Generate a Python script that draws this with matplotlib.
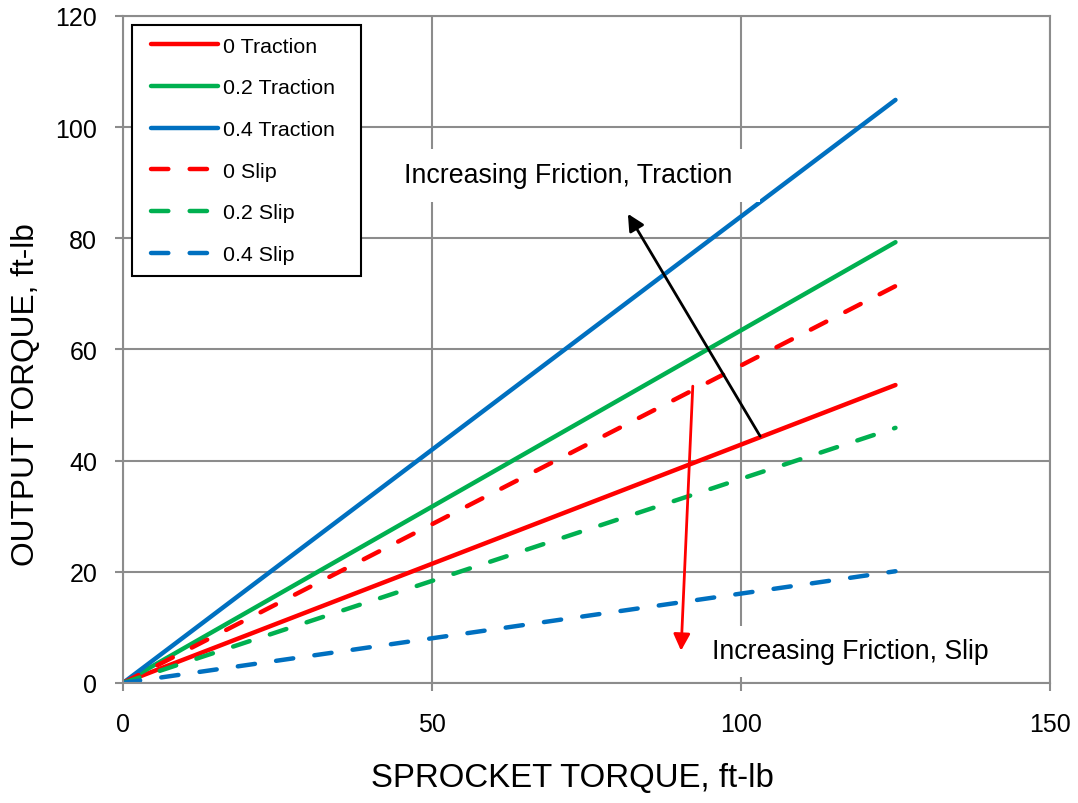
import matplotlib
matplotlib.use("Agg")
import matplotlib.pyplot as plt
from matplotlib.patches import Rectangle
from matplotlib.legend_handler import HandlerLine2D

plt.rcParams['font.family'] = ['Liberation Sans', 'DejaVu Sans']

# sprocket torque (ft-lb) and output torque for each friction case
sprocket = [0, 125]
traction_0 = [0, 53.6]
traction_02 = [0, 79.3]
traction_04 = [0, 104.9]
slip_0 = [0, 71.4]
slip_02 = [0, 45.9]
slip_04 = [0, 20.1]

red = '#FF0000'
green = '#00B050'
blue = '#0070C0'
grey = '#8C8C8C'

fig = plt.figure(figsize=(10.78, 8.04), dpi=100)
ax = fig.add_axes([0.1141, 0.1493, 0.8599, 0.8296])

lw = 3.2
dash = (0, (3.9, 4.8))
ax.plot(sprocket, traction_0, color=red, lw=lw, label='0 Traction', solid_capstyle='round')
ax.plot(sprocket, traction_02, color=green, lw=lw, label='0.2 Traction', solid_capstyle='round')
ax.plot(sprocket, traction_04, color=blue, lw=lw, label='0.4 Traction', solid_capstyle='round')
ax.plot(sprocket, slip_0, color=red, lw=lw, ls=dash, dash_capstyle='round', label='0 Slip')
ax.plot(sprocket, slip_02, color=green, lw=lw, ls=dash, dash_capstyle='round', label='0.2 Slip')
ax.plot(sprocket, slip_04, color=blue, lw=lw, ls=dash, dash_capstyle='round', label='0.4 Slip')

ax.set_xlim(0, 150)
ax.set_ylim(0, 120)
ax.set_xticks([0, 50, 100, 150])
ax.set_yticks(range(0, 121, 20))
ax.grid(True, color=grey, lw=1.5)
ax.set_axisbelow(True)
for s in ax.spines.values():
    s.set_color(grey)
    s.set_linewidth(1.5)
ax.tick_params(direction='out', length=6, width=1.5, color=grey, labelsize=18)
ax.tick_params(axis='y', pad=12.5)
ax.tick_params(axis='x', pad=15)

fig.text(0.5306, 0.0211, 'SPROCKET TORQUE, ft-lb', fontsize=23.8, ha='center', va='baseline')
fig.text(0.0241, 0.5087, 'OUTPUT TORQUE, ft-lb', fontsize=22.8, rotation=90,
         ha='center', va='center')

# white backing of the two caption boxes
ax.add_patch(Rectangle((44, 86.5), 59.1, 9.6, facecolor='white', edgecolor='none', zorder=2.5))
ax.add_patch(Rectangle((93.9, 1.1), 48, 9.2, facecolor='white', edgecolor='none', zorder=2.5))

# direction arrows with their captions
ax.annotate('', xy=(81.7, 84.4), xytext=(103.1, 44.4),
            arrowprops=dict(arrowstyle='-|>', color='black', lw=2, mutation_scale=25,
                            shrinkA=0, shrinkB=0))
ax.annotate('', xy=(90.3, 5.8), xytext=(92.2, 53.4),
            arrowprops=dict(arrowstyle='-|>', color=red, lw=2, mutation_scale=25,
                            shrinkA=0, shrinkB=0))
ax.text(45.5, 91.4, 'Increasing Friction, Traction', fontsize=19.3, va='center', ha='left',
        zorder=3)
ax.text(95.3, 5.8, 'Increasing Friction, Slip', fontsize=19.2, va='center', ha='left',
        zorder=3)

leg = ax.legend(loc='upper left', bbox_to_anchor=(0.0097, 0.5, 0.247, 0.4865), mode='expand',
                fontsize=15.4, fancybox=False, framealpha=1, edgecolor='black',
                handlelength=3.45, handletextpad=0.25, labelspacing=1.06, borderpad=0.55,
                borderaxespad=0,
                handler_map={l: HandlerLine2D(xpad=0.35) for l in ax.get_lines()})
leg.get_frame().set_linewidth(1.5)

fig.savefig('out.png', dpi=100)
